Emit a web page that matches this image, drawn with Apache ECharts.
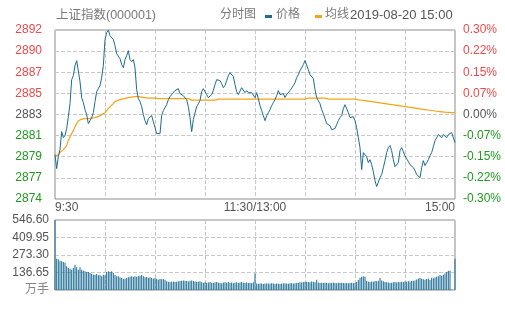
<!DOCTYPE html>
<html><head><meta charset="utf-8">
<script src="https://cdn.jsdelivr.net/npm/echarts@6/dist/echarts.min.js"></script>
<style>html,body{margin:0;padding:0;background:#fff}#c{width:505px;height:310px}</style>
</head><body><div id="c"></div>
<script>
// ---- data ----
const prevClose = 2883.0625;
const priceMin = 2874.4125, priceMax = 2891.7125, priceStep = 2.1625;
const volMax = 546.6, volStep = 136.65;

const priceTickLabels = ['2874','2877','2879','2881','2883','2885','2887','2890','2892'];
const pctTickLabels = ['-0.30%','-0.22%','-0.15%','-0.07%','0.00%','0.07%','0.15%','0.22%','0.30%'];
const volTickLabels = ['万手','136.65','273.30','409.95','546.60'];
const timeTickIndex = [0, 120, 240];
const timeTickLabels = ['9:30', '11:30/13:00', '15:00'];

const price = [
2878.95, 2877.52, 2878.75, 2879.47, 2881.31, 2880.69, 2880.90, 2881.62, 2882.84, 2884.17,
2886.63, 2887.04, 2888.06, 2888.58, 2888.47, 2886.43, 2884.79, 2884.28, 2883.56, 2883.05,
2882.13, 2882.43, 2882.74, 2883.25, 2884.38, 2885.40, 2885.71, 2886.02, 2886.84, 2888.06,
2890.73, 2891.44, 2891.70, 2891.14, 2891.03, 2890.73, 2890.11, 2889.29, 2889.40, 2888.78,
2888.17, 2887.86, 2888.68, 2889.09, 2889.60, 2888.68, 2888.47, 2888.68, 2887.86, 2885.61,
2884.69, 2884.38, 2883.87, 2883.05, 2882.43, 2882.02, 2882.64, 2882.54, 2882.95, 2882.33,
2881.72, 2881.10, 2880.90, 2881.10, 2882.95, 2883.46, 2883.77, 2884.07, 2884.58, 2884.89,
2885.10, 2885.30, 2885.51, 2885.51, 2885.71, 2885.20, 2885.30, 2884.99, 2884.99, 2884.58,
2883.87, 2882.74, 2881.31, 2882.54, 2882.64, 2883.87, 2884.17, 2884.48, 2885.40, 2885.71,
2885.51, 2885.10, 2884.79, 2884.99, 2885.10, 2885.51, 2886.12, 2886.63, 2886.63, 2886.53,
2886.22, 2885.81, 2886.02, 2886.53, 2887.04, 2887.35, 2887.55, 2886.94, 2886.12, 2885.40,
2885.10, 2885.30, 2885.81, 2885.61, 2885.30, 2885.51, 2885.30, 2885.10, 2885.30, 2885.10,
2884.79, 2885.30, 2884.69, 2883.97, 2883.46, 2882.95, 2882.43, 2882.95, 2883.25, 2883.56,
2883.97, 2884.28, 2884.58, 2884.99, 2885.51, 2885.10, 2884.99, 2885.20, 2884.79, 2885.10,
2885.30, 2885.51, 2885.61, 2886.02, 2886.32, 2886.84, 2887.14, 2887.55, 2887.65, 2888.17,
2888.58, 2888.68, 2887.65, 2887.14, 2887.14, 2886.73, 2885.61, 2884.79, 2884.48, 2884.17,
2883.56, 2883.15, 2882.64, 2882.13, 2882.02, 2881.92, 2881.51, 2881.31, 2881.62, 2882.02,
2882.43, 2882.74, 2882.95, 2883.66, 2884.07, 2883.97, 2883.25, 2882.74, 2882.54, 2882.84,
2882.43, 2881.72, 2880.69, 2879.67, 2877.42, 2879.16, 2879.26, 2878.75, 2878.13, 2878.44,
2877.93, 2877.21, 2876.29, 2875.68, 2875.88, 2876.60, 2876.91, 2877.62, 2878.34, 2879.16,
2879.67, 2879.88, 2879.36, 2878.44, 2877.72, 2877.83, 2878.13, 2879.36, 2879.67, 2879.26,
2878.85, 2878.54, 2878.34, 2877.93, 2878.13, 2877.62, 2877.32, 2876.91, 2876.80, 2876.60,
2877.62, 2878.34, 2877.83, 2878.13, 2878.44, 2878.85, 2879.16, 2879.77, 2880.39, 2880.69,
2881.00, 2881.10, 2880.69, 2881.00, 2881.10, 2880.69, 2881.00, 2881.10, 2881.21, 2881.10, 2880.18
];

const avgPrice = [
2878.80, 2878.85, 2878.95, 2879.16, 2879.26, 2879.47, 2879.67, 2879.88, 2880.39, 2880.80,
2881.10, 2881.41, 2881.82, 2882.13, 2882.43, 2882.54, 2882.59, 2882.64, 2882.64, 2882.64,
2882.64, 2882.64, 2882.69, 2882.69, 2882.74, 2882.79, 2882.84, 2882.95, 2883.05, 2883.15,
2883.25, 2883.46, 2883.66, 2883.87, 2883.97, 2884.17, 2884.38, 2884.48, 2884.53, 2884.58,
2884.63, 2884.69, 2884.69, 2884.74, 2884.79, 2884.79, 2884.84, 2884.89, 2884.89, 2884.89,
2884.89, 2884.89, 2884.84, 2884.79, 2884.79, 2884.74, 2884.74, 2884.74, 2884.74, 2884.74,
2884.74, 2884.69, 2884.69, 2884.69, 2884.69, 2884.69, 2884.69, 2884.69, 2884.69, 2884.69,
2884.69, 2884.69, 2884.69, 2884.69, 2884.69, 2884.69, 2884.69, 2884.69, 2884.69, 2884.69,
2884.69, 2884.53, 2884.53, 2884.53, 2884.53, 2884.53, 2884.53, 2884.53, 2884.53, 2884.53,
2884.53, 2884.53, 2884.53, 2884.53, 2884.53, 2884.53, 2884.53, 2884.63, 2884.63, 2884.63,
2884.63, 2884.63, 2884.63, 2884.63, 2884.63, 2884.63, 2884.63, 2884.63, 2884.63, 2884.63,
2884.63, 2884.63, 2884.63, 2884.63, 2884.63, 2884.63, 2884.63, 2884.63, 2884.63, 2884.63,
2884.63, 2884.63, 2884.63, 2884.63, 2884.63, 2884.63, 2884.63, 2884.63, 2884.63, 2884.63,
2884.63, 2884.63, 2884.63, 2884.63, 2884.63, 2884.63, 2884.63, 2884.63, 2884.63, 2884.63,
2884.63, 2884.63, 2884.63, 2884.63, 2884.63, 2884.63, 2884.63, 2884.63, 2884.63, 2884.63,
2884.63, 2884.74, 2884.74, 2884.74, 2884.74, 2884.74, 2884.74, 2884.74, 2884.74, 2884.74,
2884.74, 2884.74, 2884.74, 2884.63, 2884.63, 2884.63, 2884.63, 2884.63, 2884.63, 2884.63,
2884.63, 2884.63, 2884.63, 2884.63, 2884.63, 2884.63, 2884.63, 2884.63, 2884.63, 2884.63,
2884.63, 2884.58, 2884.56, 2884.54, 2884.52, 2884.50, 2884.48, 2884.46, 2884.44, 2884.41,
2884.38, 2884.36, 2884.33, 2884.30, 2884.28, 2884.25, 2884.22, 2884.20, 2884.17, 2884.15,
2884.12, 2884.10, 2884.07, 2884.05, 2884.02, 2884.00, 2883.97, 2883.95, 2883.92, 2883.90,
2883.87, 2883.85, 2883.82, 2883.80, 2883.77, 2883.75, 2883.72, 2883.70, 2883.67, 2883.65,
2883.62, 2883.60, 2883.57, 2883.55, 2883.52, 2883.50, 2883.47, 2883.45, 2883.42, 2883.40,
2883.38, 2883.36, 2883.34, 2883.32, 2883.30, 2883.29, 2883.28, 2883.27, 2883.26, 2883.25, 2883.25
];

const volume = [
546.6, 244, 240, 229, 225, 219, 213, 185, 172, 165,
159, 172, 198, 177, 159, 177, 159, 151, 146, 141,
141, 133, 125, 120, 120, 125, 115, 120, 107, 120,
115, 141, 146, 141, 146, 133, 118, 107, 107, 99,
94, 86, 88, 94, 99, 104, 107, 102, 107, 104,
107, 112, 118, 107, 99, 102, 94, 99, 94, 88,
94, 88, 81, 86, 84, 86, 81, 68, 65, 63,
65, 66, 63, 65, 68, 70, 72, 75, 73, 70,
66, 72, 75, 70, 66, 63, 65, 68, 60, 57,
60, 55, 58, 62, 56, 54, 60, 63, 57, 55,
52, 58, 60, 56, 62, 55, 58, 53, 57, 60,
55, 58, 62, 56, 54, 59, 55, 57, 53, 60,
130, 50, 48, 50, 50, 47, 50, 50, 50, 48,
52, 50, 47, 50, 48, 47, 50, 50, 52, 50,
48, 52, 53, 50, 52, 55, 55, 60, 58, 62,
63, 64, 62, 60, 66, 65, 60, 81, 58, 55,
57, 55, 57, 55, 52, 56, 55, 58, 55, 53,
57, 55, 56, 54, 52, 55, 53, 55, 57, 52,
55, 62, 78, 95, 104, 107, 104, 70, 64, 62,
66, 65, 70, 68, 72, 94, 75, 68, 62, 60,
58, 55, 57, 60, 62, 58, 62, 60, 64, 62,
66, 65, 68, 66, 70, 72, 75, 82, 90, 94,
88, 84, 80, 86, 90, 78, 95, 92, 98, 104,
108, 118, 112, 120, 128, 141, 151, 150, 3, 0, 244
];

// ---- time categories (one per minute) ----
function buildTimes() {
  const out = [];
  for (let m = 9 * 60 + 30; m <= 11 * 60 + 30; m++) out.push(Math.floor(m / 60) + ':' + String(m % 60).padStart(2, '0'));
  for (let m = 13 * 60 + 1; m <= 15 * 60; m++) out.push(Math.floor(m / 60) + ':' + String(m % 60).padStart(2, '0'));
  return out;
}
const times = buildTimes();

const FONT = "'Liberation Sans', Arial, 'Noto Sans CJK SC', sans-serif";
const BLUE = '#1c6c93';
const ORANGE = '#f5a31a';
const RED = '#f2484b';
const GREEN = '#1f9a1f';
const GRAY = '#555';
const TXT = '#7a7a7a';
const SPLIT = { color: '#c8c8c8', type: 'dashed', width: 1 };

function priceIdx(v) { return Math.round((v - priceMin) / priceStep); }
function idxColor(i) { return i > 4 ? RED : (i === 4 ? GRAY : GREEN); }
const vSplit = (i) => i % 30 === 0 && i !== 0 && i !== 240;

const chart = echarts.init(document.getElementById('c'), null, { renderer: 'canvas' });
chart.setOption({
  animation: false,
  textStyle: { fontFamily: FONT },
  grid: [
    { left: 55, top: 30, width: 400, height: 169, show: true, borderColor: '#8c8c8c', borderWidth: 1, backgroundColor: 'rgba(0,0,0,0)', z: 0 },
    { left: 55, top: 220, width: 400, height: 70, show: true, borderColor: '#8c8c8c', borderWidth: 1, backgroundColor: 'rgba(0,0,0,0)', z: 0 }
  ],
  xAxis: [
    {
      type: 'category', gridIndex: 0, data: times, boundaryGap: false,
      axisLine: { show: false }, axisTick: { show: false },
      axisLabel: {
        margin: 3, fontSize: 12, color: GRAY, fontFamily: FONT,
        interval: (i) => timeTickIndex.indexOf(i) >= 0,
        formatter: (v, i) => { const k = timeTickIndex.indexOf(i); return k >= 0 ? timeTickLabels[k] : ''; },
        alignMinLabel: 'left', alignMaxLabel: 'right', showMinLabel: true, showMaxLabel: true
      },
      splitLine: { show: true, interval: vSplit, lineStyle: SPLIT }
    },
    {
      type: 'category', gridIndex: 1, data: times, boundaryGap: false,
      axisLine: { show: false }, axisTick: { show: false }, axisLabel: { show: false },
      splitLine: { show: true, interval: vSplit, lineStyle: SPLIT }
    }
  ],
  yAxis: [
    {
      type: 'value', gridIndex: 0, min: priceMin, max: priceMax, interval: priceStep,
      axisLine: { show: false }, axisTick: { show: false },
      axisLabel: {
        margin: 13, fontSize: 12, fontFamily: FONT,
        formatter: (v) => priceTickLabels[priceIdx(v)] || '',
        color: (v) => idxColor(priceIdx(Number(v)))
      },
      splitLine: { show: true, lineStyle: SPLIT }
    },
    {
      type: 'value', gridIndex: 0, position: 'right', min: priceMin, max: priceMax, interval: priceStep,
      axisLine: { show: false }, axisTick: { show: false },
      axisLabel: {
        margin: 8, fontSize: 12, fontFamily: FONT,
        formatter: (v) => pctTickLabels[priceIdx(v)] || '',
        color: (v) => idxColor(priceIdx(Number(v)))
      },
      splitLine: { show: false }
    },
    {
      type: 'value', gridIndex: 1, min: 0, max: volMax, interval: volStep,
      axisLine: { show: false }, axisTick: { show: false },
      axisLabel: {
        margin: 6, fontSize: 12, fontFamily: FONT,
        formatter: (v) => volTickLabels[Math.round(v / volStep)] || '',
        color: (v) => Math.round(Number(v) / volStep) === 0 ? '#888' : GRAY
      },
      splitLine: { show: true, lineStyle: SPLIT }
    }
  ],
  series: [
    { name: '价格', type: 'line', xAxisIndex: 0, yAxisIndex: 0, data: price, showSymbol: false, symbol: 'none',
      lineStyle: { color: BLUE, width: 1 }, itemStyle: { color: BLUE }, z: 3 },
    { name: '均线', type: 'line', xAxisIndex: 0, yAxisIndex: 0, data: avgPrice, showSymbol: false, symbol: 'none',
      lineStyle: { color: ORANGE, width: 1.2 }, itemStyle: { color: ORANGE }, z: 2 },
    { name: '成交量', type: 'bar', xAxisIndex: 1, yAxisIndex: 2, data: volume, barWidth: 1,
      itemStyle: { color: BLUE } }
  ],
  graphic: [
    { type: 'text', left: 56, top: 9, style: { text: '上证指数(000001)', fill: TXT, font: '12.5px ' + FONT } },
    { type: 'text', left: 220, top: 9, style: { text: '分时图', fill: TXT, font: '12px ' + FONT } },
    { type: 'rect', shape: { x: 265, y: 15, width: 7, height: 3 }, style: { fill: BLUE } },
    { type: 'text', left: 276, top: 9, style: { text: '价格', fill: TXT, font: '12px ' + FONT } },
    { type: 'rect', shape: { x: 315, y: 15, width: 7, height: 3 }, style: { fill: ORANGE } },
    { type: 'text', left: 325, top: 9, style: { text: '均线', fill: TXT, font: '12px ' + FONT } },
    { type: 'text', left: 350, top: 9, style: { text: '2019-08-20 15:00', fill: GRAY, font: '13px ' + FONT } }
  ]
});
</script>
</body></html>
